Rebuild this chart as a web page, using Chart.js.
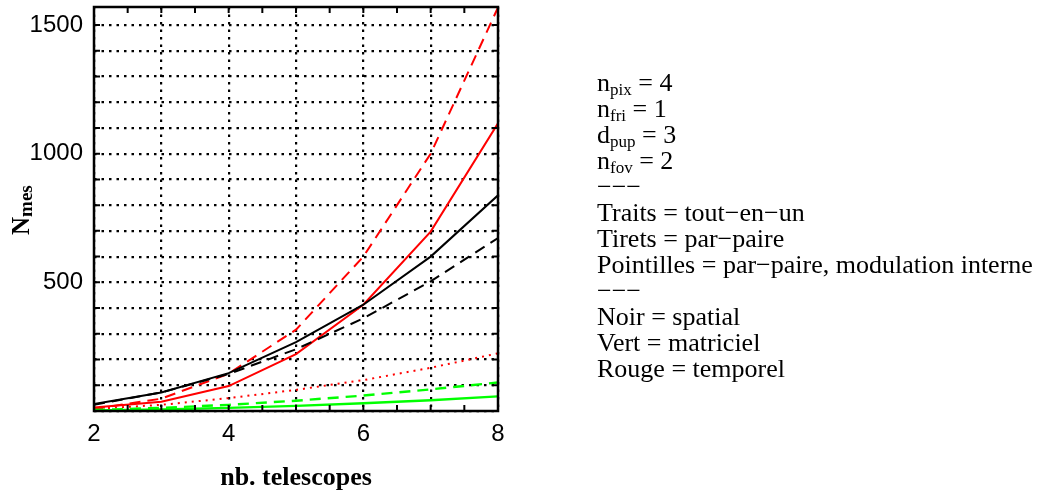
<!DOCTYPE html>
<html>
<head>
<meta charset="utf-8">
<script src="https://cdn.jsdelivr.net/npm/chart.js@4.4.1/dist/chart.umd.min.js"></script>
<style>
  html, body { margin: 0; padding: 0; background: #fff; }
  #wrap { position: relative; width: 1039px; height: 490px; }
  #notes { position: absolute; left: 597px; top: 0; font-family: "Liberation Serif", serif; font-size: 26px; color: #000; }
  #notes div { position: absolute; left: 0; white-space: nowrap; line-height: 26px; }
  #notes sub { font-size: 17px; vertical-align: -4px; line-height: 0; }
</style>
</head>
<body>
<div id="wrap">
  <canvas id="chart" width="1039" height="490"></canvas>
  <div id="notes"></div>
</div>
<script>
// nb. telescopes
const telescopes = [2, 3, 4, 5, 6, 7, 8];

// N_mes (noir = spatial, vert = matriciel, rouge = temporel)
const spatialToutEnUn = [27, 72, 147, 268, 413, 600, 838];
const spatialParPaire = [24, 72, 144, 240, 360, 504, 672];
const matricielToutEnUn = [2, 6, 12, 20, 30, 42, 57];
const matricielParPaire = [4, 12, 24, 40, 60, 84, 111];
const temporelToutEnUn = [14, 36, 97, 221, 413, 697, 1118];
const temporelParPaire = [8, 48, 145, 316, 600, 1000, 1568];
const temporelModInterne = [8, 24, 50, 82, 120, 168, 224];

const xLabels = [2, 4, 6, 8];
const yLabels = [500, 1000, 1500];

const notes = [
  'n<sub>pix</sub> = 4',
  'n<sub>fri</sub> = 1',
  'd<sub>pup</sub> = 3',
  'n<sub>fov</sub> = 2',
  '\u2212\u2212\u2212',
  'Traits = tout\u2212en\u2212un',
  'Tirets = par\u2212paire',
  'Pointilles = par\u2212paire, modulation interne',
  '\u2212\u2212\u2212',
  'Noir = spatial',
  'Vert = matriciel',
  'Rouge = temporel'
];

const notesBox = document.getElementById('notes');
notes.forEach((line, i) => {
  const d = document.createElement('div');
  d.innerHTML = line;
  d.style.top = (92 + i * 25.95 - 21.8) + 'px';
  notesBox.appendChild(d);
});

function points(values) {
  return telescopes.map((t, i) => ({ x: t, y: values[i] }));
}

function series(label, values, color, dash, width) {
  return {
    label: label,
    data: points(values),
    borderColor: color,
    borderWidth: width || 2,
    borderDash: dash || [],
    pointRadius: 0,
    fill: false,
    tension: 0
  };
}

// frame, inward ticks and axis titles
const framePlugin = {
  id: 'frame',
  afterDraw(chart) {
    const { ctx, chartArea: a, scales } = chart;
    const xs = scales.x, ys = scales.y;
    ctx.save();
    ctx.strokeStyle = '#000';
    ctx.lineWidth = 2;
    ctx.beginPath();
    for (let v = 0; v <= 1500; v += 100) {
      const py = ys.getPixelForValue(v);
      ctx.moveTo(a.left, py); ctx.lineTo(a.left + 6, py);
      ctx.moveTo(a.right, py); ctx.lineTo(a.right - 6, py);
    }
    for (let v = 2; v <= 8; v += 0.5) {
      const px = xs.getPixelForValue(v);
      ctx.moveTo(px, a.bottom); ctx.lineTo(px, a.bottom - 6);
      ctx.moveTo(px, a.top); ctx.lineTo(px, a.top + 6);
    }
    ctx.stroke();
    ctx.lineWidth = 2.5;
    ctx.strokeRect(a.left, a.top, a.right - a.left, a.bottom - a.top);

    // x title
    ctx.fillStyle = '#000';
    ctx.font = 'bold 26px "Liberation Serif", serif';
    ctx.textAlign = 'center';
    ctx.textBaseline = 'alphabetic';
    ctx.fillText('nb. telescopes', (a.left + a.right) / 2, 485);

    // y title N_mes
    ctx.translate(28.5, 235);
    ctx.rotate(-Math.PI / 2);
    ctx.textAlign = 'left';
    ctx.font = 'bold 25px "Liberation Serif", serif';
    ctx.fillText('N', 0, 0);
    const w = ctx.measureText('N').width;
    ctx.font = 'bold 19px "Liberation Serif", serif';
    ctx.fillText('mes', w, 3.5);
    ctx.restore();
  }
};

const tickFont = { family: '"Liberation Sans", Arial, sans-serif', size: 24 };

new Chart(document.getElementById('chart'), {
  type: 'line',
  data: {
    datasets: [
      series('spatial tout-en-un', spatialToutEnUn, '#000000', [], 2),
      series('spatial par-paire', spatialParPaire, '#000000', [11, 7], 2),
      series('matriciel tout-en-un', matricielToutEnUn, '#00ff00', [], 2.4),
      series('matriciel par-paire', matricielParPaire, '#00ff00', [11, 7], 2.4),
      series('temporel modulation interne', temporelModInterne, '#ff0000', [2, 5], 2),
      series('temporel par-paire', temporelParPaire, '#ff0000', [11, 7], 2),
      series('temporel tout-en-un', temporelToutEnUn, '#ff0000', [], 2)
    ]
  },
  options: {
    responsive: false,
    animation: false,
    devicePixelRatio: 1,
    layout: { padding: { left: 0, right: 541, top: 7, bottom: 0 } },
    plugins: { legend: { display: false }, tooltip: { enabled: false } },
    scales: {
      x: {
        type: 'linear',
        min: 2,
        max: 8,
        border: { display: false, dash: [2.5, 5] },
        grid: { color: '#000', lineWidth: 2.2, drawTicks: false },
        ticks: {
          stepSize: 1,
          padding: 9,
          color: '#000',
          font: tickFont,
          maxRotation: 0,
          autoSkip: false,
          callback: v => xLabels.includes(v) ? String(v) : ''
        },
        afterFit: s => { s.height = 79; s.paddingLeft = 0; s.paddingRight = 0; }
      },
      y: {
        min: 0,
        max: 1570,
        border: { display: false, dash: [2.5, 5] },
        grid: { color: '#000', lineWidth: 2.2, drawTicks: false },
        ticks: {
          padding: 11,
          color: '#000',
          font: tickFont,
          autoSkip: false,
          callback: v => yLabels.includes(v) ? String(v) : ''
        },
        afterBuildTicks: s => {
          const t = [];
          for (let v = 0; v <= 1500; v += 100) t.push({ value: v });
          s.ticks = t;
        },
        afterFit: s => { s.width = 94; s.paddingTop = 0; s.paddingBottom = 0; }
      }
    }
  },
  plugins: [framePlugin]
});
</script>
</body>
</html>
